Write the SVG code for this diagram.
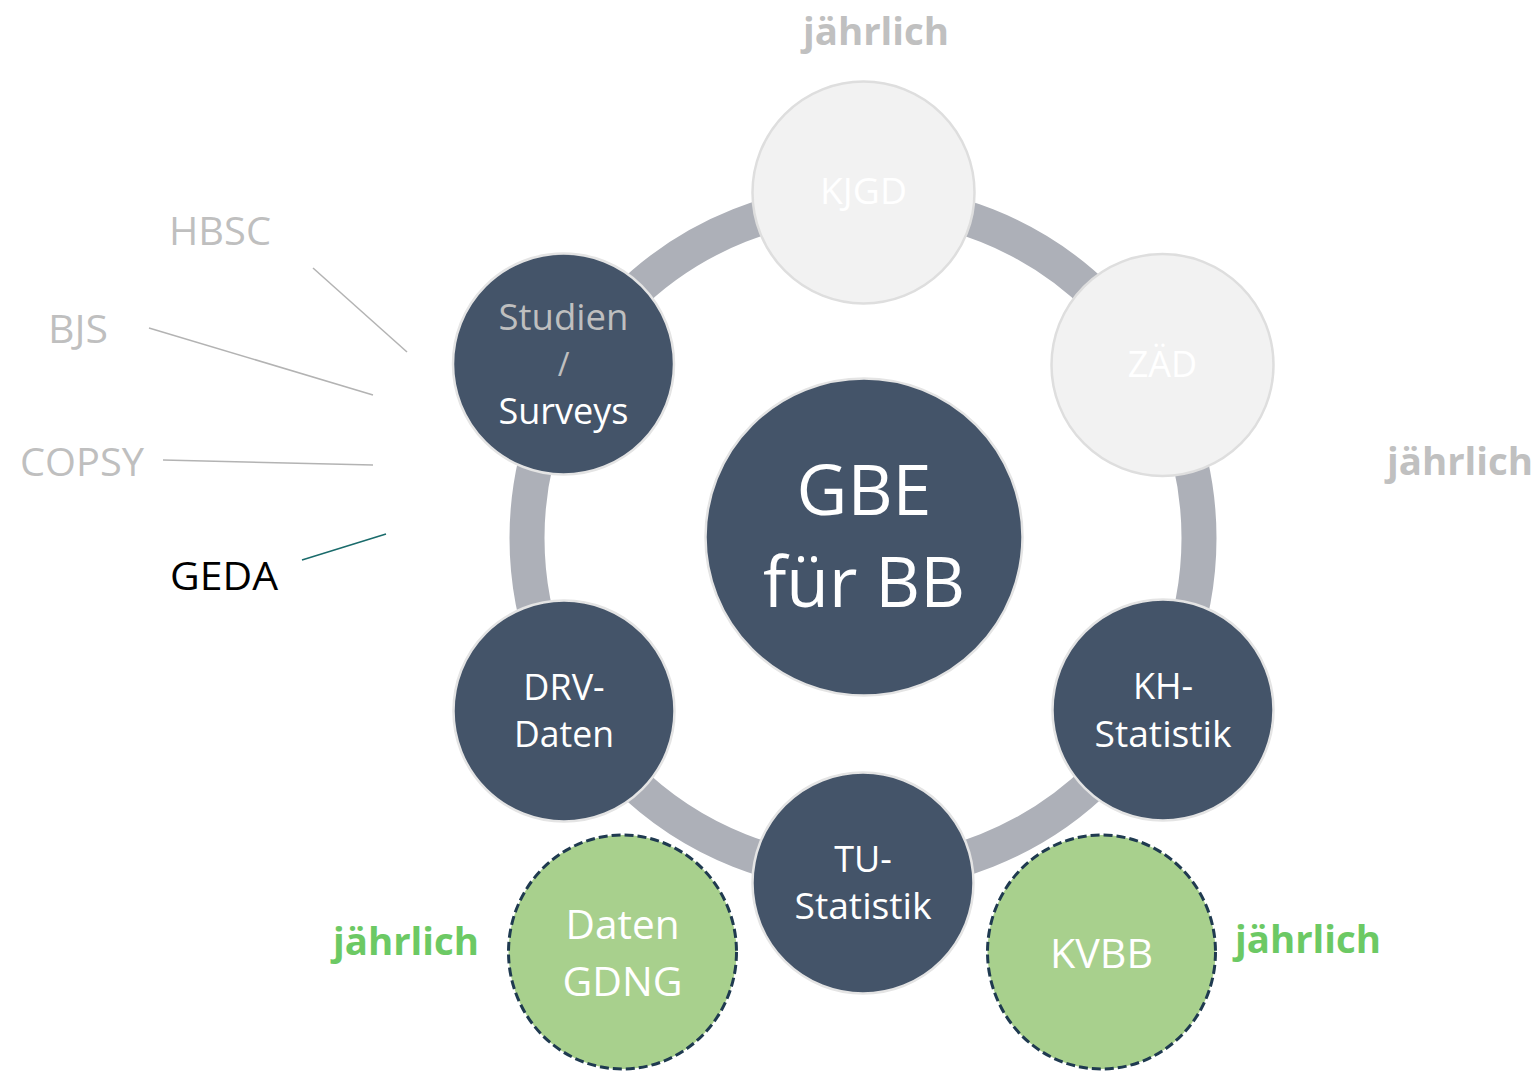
<svg xmlns="http://www.w3.org/2000/svg" width="1540" height="1072" viewBox="0 0 1540 1072">
<style>
text{font-family:"Open Sans","Noto Sans","Liberation Sans",sans-serif;text-anchor:middle}
.dark{fill:#445469;stroke:#e4e4e4;stroke-width:2.5}
.light{fill:#f2f2f2;stroke:#dedede;stroke-width:2.5}
.green{fill:#a8d08d;stroke:#1f3a50;stroke-width:3;stroke-dasharray:9 4}
.wt{fill:#ffffff}
.gt{fill:#bfbfbf}
.nt{font-size:36px}
.lbl{font-size:38px;fill:#bfbfbf;text-anchor:start}
.yr{font-size:38px;font-weight:bold}
.yg{fill:#c0c0c0}
.yn{fill:#6cc964}
.ln{stroke:#b3b3b3;stroke-width:1.5;fill:none}
</style>
<rect width="1540" height="1072" fill="#ffffff"/>
<g id="connectors">
<circle cx="863" cy="538" r="336" fill="none" stroke="#adb0b8" stroke-width="35"/>
<line class="ln" x1="313" y1="268" x2="407" y2="352"/>
<line class="ln" x1="149" y1="328" x2="373" y2="395"/>
<line class="ln" x1="163" y1="460" x2="373" y2="465"/>
<line x1="302" y1="560" x2="386" y2="534" stroke="#1a6b6b" stroke-width="1.5"/>
</g>
<g id="node-kjgd"><circle class="light" cx="863.5" cy="192.5" r="111"/><text class="wt nt" x="863.5" y="204" textLength="87" lengthAdjust="spacingAndGlyphs">KJGD</text></g>
<g id="node-zaed"><circle class="light" cx="1162.5" cy="365" r="111"/><text class="wt nt" x="1162.5" y="377">ZÄD</text></g>
<g id="node-kh"><circle class="dark" cx="1163" cy="710" r="110.5"/><text class="wt nt" x="1163" y="699">KH-</text><text class="wt nt" x="1163" y="747" textLength="137" lengthAdjust="spacingAndGlyphs">Statistik</text></g>
<g id="node-tu"><circle class="dark" cx="863" cy="883" r="110.5"/><text class="wt nt" x="863" y="872">TU-</text><text class="wt nt" x="863" y="919" textLength="137" lengthAdjust="spacingAndGlyphs">Statistik</text></g>
<g id="node-drv"><circle class="dark" cx="564" cy="711" r="110.5"/><text class="wt nt" x="564" y="700">DRV-</text><text class="wt nt" x="564" y="747" textLength="100" lengthAdjust="spacingAndGlyphs">Daten</text></g>
<g id="node-studien"><circle class="dark" cx="563.5" cy="364" r="110.5"/><text class="gt nt" x="563.5" y="330" textLength="130" lengthAdjust="spacingAndGlyphs">Studien</text><text class="gt" style="font-size:32px" x="563.5" y="376">/</text><text class="wt nt" x="563.5" y="424" textLength="130" lengthAdjust="spacingAndGlyphs">Surveys</text></g>
<g id="node-gbe"><circle class="dark" cx="864" cy="537" r="158.5"/><text class="wt" style="font-size:70px" x="864" y="515">GBE</text><text class="wt" style="font-size:70px" x="864" y="607" textLength="202" lengthAdjust="spacingAndGlyphs">für BB</text></g>
<g id="node-gdng"><ellipse class="green" cx="622.5" cy="952" rx="114" ry="117"/><text class="wt" style="font-size:41px" x="622.5" y="939" textLength="114" lengthAdjust="spacingAndGlyphs">Daten</text><text class="wt" style="font-size:41px" x="622.5" y="996" textLength="120" lengthAdjust="spacingAndGlyphs">GDNG</text></g>
<g id="node-kvbb"><ellipse class="green" cx="1101.5" cy="952" rx="114" ry="117"/><text class="wt" style="font-size:41px" x="1101.5" y="968" textLength="103" lengthAdjust="spacingAndGlyphs">KVBB</text></g>
<g id="labels">
<text class="lbl" x="169" y="245" textLength="102" lengthAdjust="spacingAndGlyphs">HBSC</text>
<text class="lbl" x="48" y="343" textLength="60" lengthAdjust="spacingAndGlyphs">BJS</text>
<text class="lbl" x="20" y="476" textLength="124" lengthAdjust="spacingAndGlyphs">COPSY</text>
<text class="lbl" x="170" y="590" style="fill:#000000" textLength="108" lengthAdjust="spacingAndGlyphs">GEDA</text>
<text class="yr yg" x="876" y="45" textLength="146" lengthAdjust="spacingAndGlyphs">jährlich</text>
<text class="yr yg" x="1460" y="475" textLength="146" lengthAdjust="spacingAndGlyphs">jährlich</text>
<text class="yr yn" x="406" y="955" textLength="146" lengthAdjust="spacingAndGlyphs">jährlich</text>
<text class="yr yn" x="1308" y="953" textLength="146" lengthAdjust="spacingAndGlyphs">jährlich</text>
</g>
</svg>
